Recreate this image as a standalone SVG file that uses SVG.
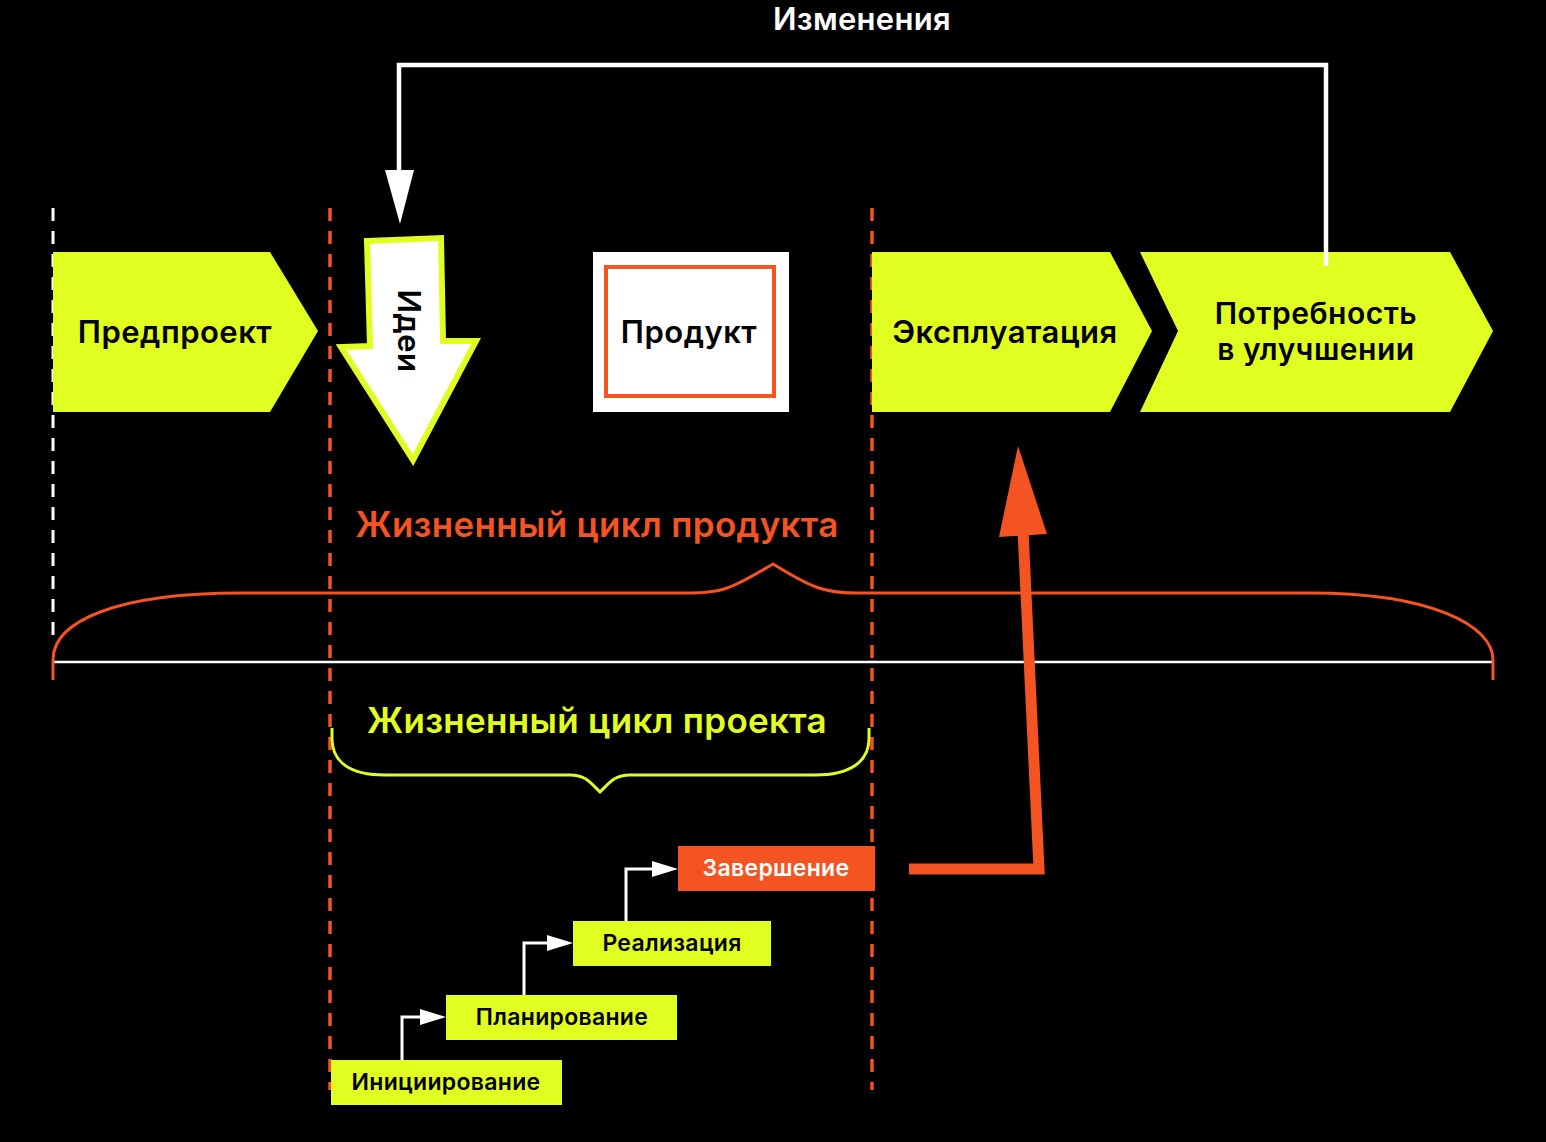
<svg xmlns="http://www.w3.org/2000/svg" width="1546" height="1142" viewBox="0 0 1546 1142">
<style>
text{font-family:Inter,"Noto Sans","Liberation Sans",sans-serif;font-weight:600}
.lime{fill:#e0ff21}
.org{fill:#f45322}
.big{font-size:31px;letter-spacing:0.5px;fill:#000;text-anchor:middle;dominant-baseline:central}
.step{font-size:23px;letter-spacing:0.3px;fill:#000;text-anchor:middle;dominant-baseline:central}
.title{font-size:35px;letter-spacing:0.3px;text-anchor:middle}
.dw{stroke:#fff;stroke-width:3;stroke-dasharray:13 10;fill:none}
.do{stroke:#f45322;stroke-width:3.5;stroke-dasharray:13 10;fill:none}
.wl{stroke:#fff;stroke-width:3;fill:none}
</style>
<rect width="1546" height="1142" fill="#000"/>

<g id="guides">
<line class="dw" x1="53" y1="208" x2="53" y2="642"/>
<line class="do" x1="330" y1="208" x2="330" y2="1090"/>
<line class="do" x1="872" y1="208" x2="872" y2="1090"/>
</g>

<g id="node-predproekt">
<polygon class="lime" points="53,252 270,252 318,331 270,412 53,412"/>
<text class="big" x="175" y="331">Предпроект</text>
</g>

<g id="node-idei">
<polygon points="367,241 441,238 443,341 476,341 413,460 341,347 370,346" fill="#fff" stroke="#e0ff21" stroke-width="6" stroke-linejoin="miter"/>
<text class="big" x="0" y="0" transform="translate(409,331) rotate(90)">Идеи</text>
</g>

<g id="node-produkt">
<rect x="593" y="252" width="196" height="160" fill="#fff"/>
<rect x="606" y="267" width="168" height="129" fill="none" stroke="#f45322" stroke-width="4"/>
<text class="big" x="689" y="331">Продукт</text>
</g>

<g id="node-ekspl">
<polygon class="lime" points="872,252 1110,252 1152,331 1110,412 872,412"/>
<text class="big" x="1005" y="331">Эксплуатация</text>
</g>

<g id="node-potreb">
<polygon class="lime" points="1140,252 1450,252 1493,331 1450,412 1140,412 1178,331"/>
<text class="big" x="1316" y="313" style="font-size:30px">Потребность</text>
<text class="big" x="1316" y="349" style="font-size:30px">в улучшении</text>
</g>

<g id="label-izm">
<text x="862" y="30" style="font-size:31px;letter-spacing:0.3px;fill:#fff;text-anchor:middle">Изменения</text>
</g>

<g id="brackets">
<line x1="53" y1="662" x2="1493" y2="662" stroke="#fff" stroke-width="2.5"/>
<path d="M53,680 L53,660 C53,620 120,593 240,593 L690,593 C720,593 730,590 773,564 C812,588 825,593 855,593 L1310,593 C1430,593 1493,625 1493,660 L1493,680" fill="none" stroke="#f45322" stroke-width="3"/>
<text class="title" x="597" y="537" style="fill:#f45322">Жизненный цикл продукта</text>
<path d="M332,728 L332,738 C332,762 350,775 385,775 L570,775 C585,775 590,782 600,792 C610,782 615,775 630,775 L815,775 C850,775 869,762 869,738 L869,728" fill="none" stroke="#e0ff21" stroke-width="3"/>
<text class="title" x="597" y="733" style="fill:#e0ff21">Жизненный цикл проекта</text>
</g>

<g id="node-init">
<rect class="lime" x="331" y="1060" width="231" height="45"/>
<text class="step" x="446" y="1082">Инициирование</text>
</g>
<g id="node-plan">
<rect class="lime" x="446" y="995" width="231" height="45"/>
<text class="step" x="562" y="1017">Планирование</text>
</g>
<g id="node-real">
<rect class="lime" x="573" y="921" width="198" height="45"/>
<text class="step" x="672" y="943">Реализация</text>
</g>
<g id="node-zav">
<rect class="org" x="678" y="846" width="197" height="45"/>
<text class="step" x="776" y="868" style="fill:#fff">Завершение</text>
</g>

<g id="connectors">
<path d="M1326,266 L1326,65 L399,65 L399,172" fill="none" stroke="#fff" stroke-width="4.5"/>
<polygon points="385,170 414,170 400,224" fill="#fff"/>
<path class="wl" d="M402,1060 L402,1017 L422,1017"/>
<polygon points="420,1009 446,1017 420,1025" fill="#fff"/>
<path class="wl" d="M524,995 L524,943 L549,943"/>
<polygon points="547,935 573,943 547,951" fill="#fff"/>
<path class="wl" d="M626,921 L626,869 L654,869"/>
<polygon points="652,861 678,869 652,877" fill="#fff"/>
<path d="M909,869 L1039,869 L1023,530" fill="none" stroke="#f45322" stroke-width="11" stroke-linejoin="miter"/>
<polygon points="999,537 1047,534 1018,446" fill="#f45322"/>
</g>
</svg>
